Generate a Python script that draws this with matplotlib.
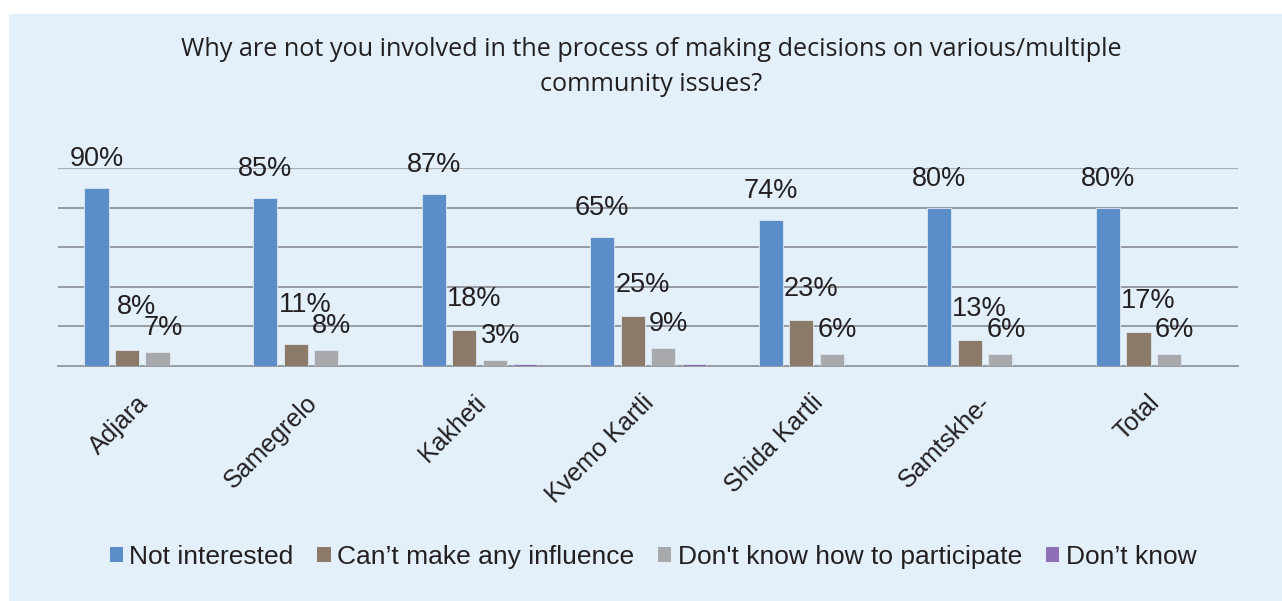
import numpy as np
import matplotlib
matplotlib.use('Agg')
from matplotlib import pyplot as plt
from matplotlib.patches import Rectangle, Patch
import matplotlib.transforms as mtransforms

regions = ['Adjara', 'Samegrelo', 'Kakheti', 'Kvemo Kartli', 'Shida Kartli', 'Samtskhe-', 'Total']
not_interested = [90, 85, 87, 65, 74, 80, 80]
no_influence = [8, 11, 18, 25, 23, 13, 17]
dont_know_how = [7, 8, 3, 9, 6, 6, 6]
dont_know = [0, 0, 1, 1, 0, 0, 0]

series_names = ['Not interested', 'Can\u2019t make any influence',
                "Don't know how to participate", 'Don\u2019t know']
colors = ['#5b8ec9', '#8b7a67', '#a7a9ac', '#8d70b5']

plt.rcParams['font.family'] = ['Liberation Sans', 'DejaVu Sans']

fig = plt.figure(figsize=(12.82, 6.01), dpi=100)
fig.patch.set_facecolor('white')
bg = '#e3f0f9'
fig.patches.append(Rectangle((9 / 1282, 0), 1, 1 - 14 / 601, transform=fig.transFigure,
                             facecolor=bg, edgecolor='none', zorder=-10))

ax = fig.add_axes([58 / 1282, 235.3 / 601, 1180 / 1282, 197.4 / 601])
ax.set_facecolor('none')
ax.set_zorder(2)
ax.set_xlim(-0.5, len(regions) - 0.5)
ax.set_ylim(0, 100)

x = np.arange(len(regions))
step = 0.181
width = 0.143
all_series = [not_interested, no_influence, dont_know_how, dont_know]

for i, (vals, c) in enumerate(zip(all_series, colors)):
    ax.bar(x + (i - 1.5) * step, vals, width=width, color=c, edgecolor='#dfe8f2',
           linewidth=0.6, zorder=3)

# points per data unit on y, to keep brown labels clear of the grey ones
pt_per_unit = (ax.transData.transform((0, 1))[1] - ax.transData.transform((0, 0))[1]) * 72 / fig.dpi
fs = 19.5
blue_dy, brown_dy, grey_dy = 11.5, 13, 8
for j in range(len(regions)):
    ax.annotate(f'{not_interested[j]}%', (x[j] - 1.5 * step, not_interested[j]),
                xytext=(0, blue_dy), textcoords='offset points',
                ha='center', va='bottom', fontsize=fs, color='#231f20', zorder=5)
    ax.annotate(f'{dont_know_how[j]}%', (x[j] + 0.5 * step, dont_know_how[j]),
                xytext=(4, grey_dy), textcoords='offset points',
                ha='center', va='bottom', fontsize=fs, color='#231f20', zorder=5)
    dy = max(brown_dy, (dont_know_how[j] - no_influence[j]) * pt_per_unit + grey_dy + 0.78 * fs)
    ax.annotate(f'{no_influence[j]}%', (x[j] - 0.5 * step, no_influence[j]),
                xytext=(7, dy), textcoords='offset points',
                ha='center', va='bottom', fontsize=fs, color='#231f20', zorder=5)

ax.set_yticks([])
for yv in [20, 40, 60, 80]:
    ax.axhline(yv, color='#8f9499', lw=1.3, zorder=1)
ax.axhline(100, color='#a9aeb3', lw=1.6, zorder=1)
for s in ['top', 'right', 'left']:
    ax.spines[s].set_visible(False)
ax.spines['bottom'].set_color('#8f9499')
ax.spines['bottom'].set_linewidth(1.3)

ax.set_xticks(x)
ax.set_xticklabels(regions, rotation=45, ha='right', rotation_mode='anchor',
                   fontsize=18, color='#231f20')
ax.tick_params(axis='x', length=0, pad=18)
shift = mtransforms.ScaledTranslation(-6 / 100, 0, fig.dpi_scale_trans)
for lbl in ax.get_xticklabels():
    lbl.set_transform(lbl.get_transform() + shift)

fig.text(651 / 1282, 1 - 67 / 601,
         'Why are not you involved in the process of making decisions on various/multiple\ncommunity issues?',
         ha='center', va='center', fontsize=18.2, family=['Open Sans', 'DejaVu Sans'],
         color='#231f20', linespacing=1.56)

handles = [Patch(facecolor=c, edgecolor='none') for c in colors]
fig.legend(handles, series_names, loc='center', bbox_to_anchor=(653 / 1282, 1 - 557 / 601),
           ncol=4, frameon=False, fontsize=19, handlelength=0.5, handleheight=0.5,
           handletextpad=0.25, columnspacing=0.9, labelcolor='#231f20')

fig.savefig('out.png', dpi=100, facecolor=fig.get_facecolor())
